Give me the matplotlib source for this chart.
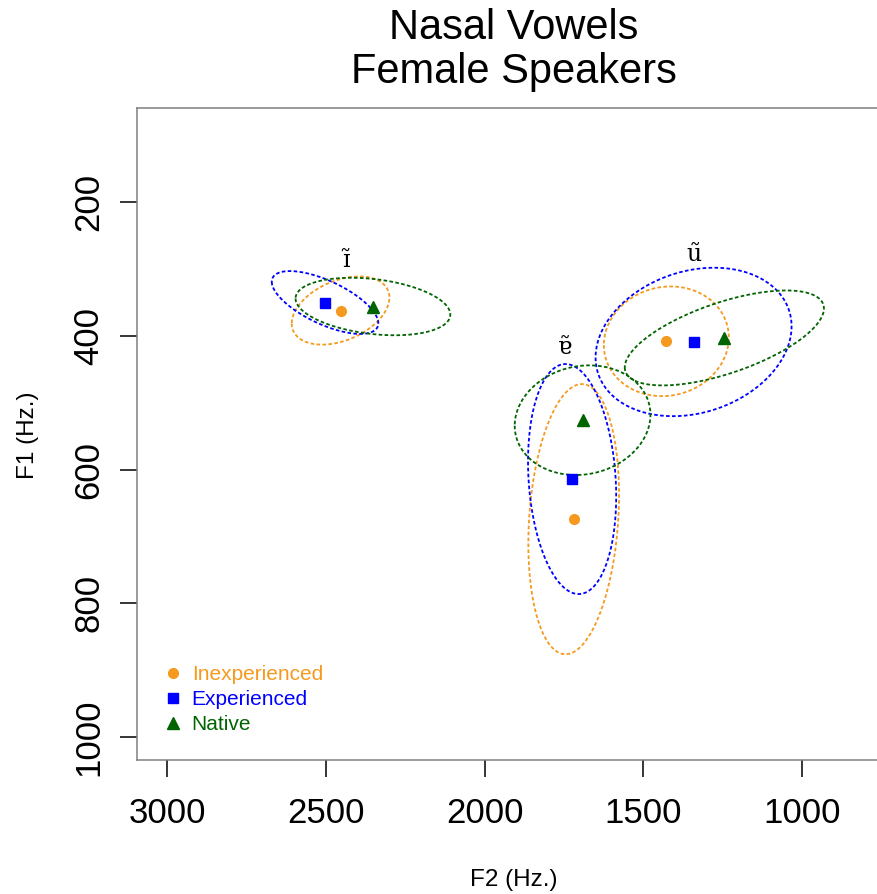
import numpy as np
import matplotlib
matplotlib.use("Agg")
import matplotlib.pyplot as plt

plt.rcParams['font.family'] = ['Liberation Sans', 'DejaVu Sans']

# Nasal vowels and speaker groups
vowels = ['\u026a\u0303', '\u0250\u0303', 'u\u0303']
groups = ['Inexperienced', 'Experienced', 'Native']
colors = ['#F59A1E', '#0000FF', '#006400']
markers = ['o', 's', '^']
marker_sizes = [7, 7, 8]

# Mean formants (Hz) per group, ordered as in `vowels`
f2_inexp = [2454, 1719, 1427]
f1_inexp = [362, 674, 408]
f2_exp = [2503, 1724, 1341]
f1_exp = [350, 614, 409]
f2_nat = [2352, 1691, 1244]
f1_nat = [356, 526, 403]

# Ellipse half-extents (Hz) and F2/F1 correlation per group
sx_inexp = [154, 143, 197]
sy_inexp = [51, 202, 82]
r_inexp = [0.38, 0.18, 0.07]
sx_exp = [168, 139, 309]
sy_exp = [47, 172, 111]
r_exp = [-0.66, -0.15, 0.21]
sx_nat = [244, 214, 314]
sy_nat = [43, 82, 71]
r_nat = [-0.28, 0.10, 0.62]

# Vowel label positions (F2, F1)
label_f2 = [2434, 1746, 1339]
label_f1 = [287, 417, 278]

f2_all = [f2_inexp, f2_exp, f2_nat]
f1_all = [f1_inexp, f1_exp, f1_nat]
sx_all = [sx_inexp, sx_exp, sx_nat]
sy_all = [sy_inexp, sy_exp, sy_nat]
r_all = [r_inexp, r_exp, r_nat]

fig = plt.figure(figsize=(8.78, 8.94), dpi=100)
ax = fig.add_axes([0.156, 0.150, 0.859, 0.729])

t = np.linspace(0, 2 * np.pi, 300)
for g in range(3):
    for v in range(3):
        cx, cy = f2_all[g][v], f1_all[g][v]
        sx, sy, r = sx_all[g][v], sy_all[g][v], r_all[g][v]
        ex = cx + sx * np.cos(t)
        ey = cy + sy * (r * np.cos(t) + np.sqrt(1 - r * r) * np.sin(t))
        ax.plot(ex, ey, color=colors[g], lw=1.3, linestyle=(0, (2.0, 1.3)))
for g in range(3):
    ax.plot(f2_all[g], f1_all[g], linestyle='none', marker=markers[g],
            ms=marker_sizes[g], color=colors[g], mec=colors[g], label=groups[g])

for v in range(3):
    ax.text(label_f2[v], label_f1[v], vowels[v], ha='center', va='center',
            fontsize=17, family=['DejaVu Serif'])

ax.set_xlim(3096, 718)
ax.set_ylim(1034, 59.4)
ax.set_xticks([3000, 2500, 2000, 1500, 1000])
ax.set_yticks([200, 400, 600, 800, 1000])
ax.tick_params(axis='both', direction='out', length=12, width=1.1,
               color='black', labelsize=25)
ax.tick_params(axis='x', pad=15)
ax.tick_params(axis='y', pad=11)
for lab in ax.get_yticklabels():
    lab.set_rotation(90)
    lab.set_va('center')

for side in ['left', 'bottom', 'top', 'right']:
    ax.spines[side].set_color('#808080')
    ax.spines[side].set_linewidth(1.1)

leg = ax.legend(loc='upper left', bbox_to_anchor=(0.02, 0.168), frameon=False,
                fontsize=15, handlelength=0.6, handletextpad=0.6,
                labelspacing=0.29, borderaxespad=0.3, labelcolor='markerfacecolor')

fig.text(514 / 878, 1 - 39 / 894, 'Nasal Vowels', ha='center', va='baseline', fontsize=30)
fig.text(514 / 878, 1 - 83 / 894, 'Female Speakers', ha='center', va='baseline', fontsize=30)
fig.text(514 / 878, 1 - 880 / 894, 'F2 (Hz.)', ha='center', va='center', fontsize=17.5)
fig.text(28 / 878, 1 - 435 / 894, 'F1 (Hz.)', ha='center', va='center', fontsize=17.5,
         rotation=90)

fig.savefig('out.png', dpi=100)
